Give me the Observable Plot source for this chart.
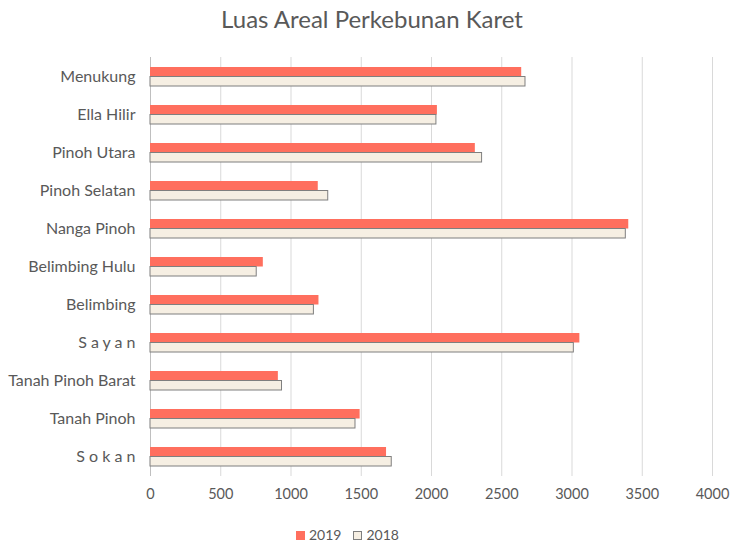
<!DOCTYPE html>
<html>
<head>
<meta charset="utf-8">
<script src="https://cdn.jsdelivr.net/npm/d3@7"></script>
<script src="https://cdn.jsdelivr.net/npm/@observablehq/plot@0.6"></script>
<style>
  body { margin: 0; background: white; font-family: Lato, Carlito, "Open Sans", sans-serif; color: #595959; }
  #wrap { width: 732px; height: 546px; position: relative; }
  #title { position: absolute; top: 4px; left: 0; width: 732px; padding-left: 12px; box-sizing: border-box; text-align: center; font-size: 24px; line-height: 30px; color: #595959; }
  #chart { position: absolute; top: 45px; left: 0; }
  #legend { position: absolute; top: 525px; left: 296px; display: flex; align-items: center; font-size: 14px; line-height: 20px; color: #595959; }
  .sw { width: 9px; height: 9px; display: inline-block; margin-right: 4px; box-sizing: border-box; }
  .item { display: flex; align-items: center; margin-right: 12px; }
</style>
</head>
<body>
<div id="wrap">
  <div id="title">Luas Areal Perkebunan Karet</div>
  <div id="chart"></div>
  <div id="legend"></div>
</div>
<script>
const categories = ["Menukung","Ella Hilir","Pinoh Utara","Pinoh Selatan","Nanga Pinoh","Belimbing Hulu","Belimbing","S a y a n","Tanah Pinoh Barat","Tanah Pinoh","S o k a n"];
const values2019 = [2642, 2042, 2312, 1194, 3404, 803, 1199, 3056, 910, 1492, 1680];
const values2018 = [2669, 2035, 2360, 1265, 3383, 756, 1163, 3013, 936, 1459, 1717];
const xTicks = [0, 500, 1000, 1500, 2000, 2500, 3000, 3500, 4000];
const seriesNames = ["2019", "2018"];
const seriesColors = ["#ff6f5e", "#f6efe3"];

const d2019 = categories.map((c, i) => ({category: c, value: values2019[i]}));
const d2018 = categories.map((c, i) => ({category: c, value: values2018[i]}));

const chart = Plot.plot({
  width: 732,
  height: 466,
  marginLeft: 150,
  marginRight: 20,
  marginTop: 12,
  marginBottom: 35,
  style: {fontFamily: "Lato, Carlito, 'Open Sans', sans-serif", fontSize: "14px", color: "#595959", background: "white"},
  x: {domain: [0, 4000], label: null},
  y: {domain: categories, paddingInner: 0.5, paddingOuter: 0.25, label: null},
  marks: [
    Plot.gridX(xTicks, {stroke: "#d9d9d9", strokeOpacity: 1, strokeWidth: 1}),
    Plot.ruleX([0], {stroke: "#bfbfbf"}),
    Plot.barX(d2019, {x: "value", y: "category", fill: seriesColors[0], insetBottom: 9.5}),
    Plot.barX(d2018, {x: "value", y: "category", fill: seriesColors[1], stroke: "#7f7f7f", strokeWidth: 1, insetTop: 9.5}),
    Plot.axisX({ticks: xTicks, tickSize: 0, tickPadding: 12, tickFormat: d => String(d), fontSize: 14.5, label: null}),
    Plot.axisY({tickSize: 0, tickPadding: 15, fontSize: 16, label: null})
  ]
});
document.getElementById("chart").appendChild(chart);

const legend = document.getElementById("legend");
seriesNames.forEach((name, i) => {
  const item = document.createElement("div");
  item.className = "item";
  const sw = document.createElement("span");
  sw.className = "sw";
  sw.style.background = seriesColors[i];
  if (i === 1) sw.style.border = "1px solid #7f7f7f";
  item.appendChild(sw);
  const t = document.createElement("span");
  t.textContent = name;
  item.appendChild(t);
  legend.appendChild(item);
});
</script>
</body>
</html>
